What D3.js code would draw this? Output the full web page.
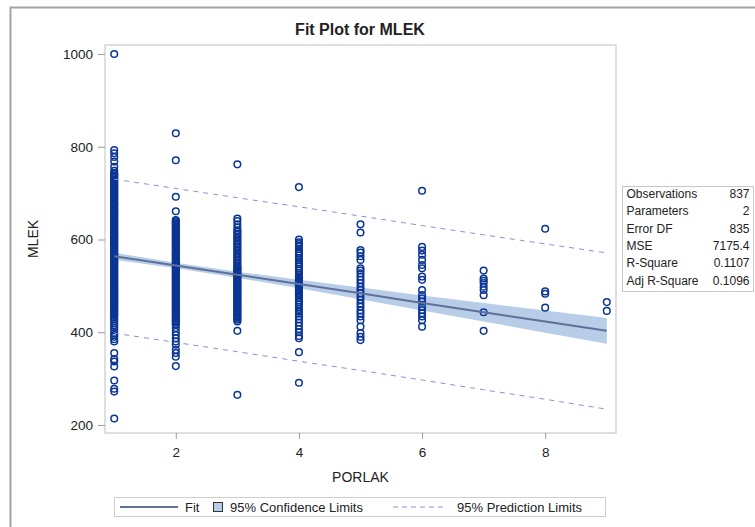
<!DOCTYPE html>
<html>
<head>
<meta charset="utf-8">
<script src="https://cdn.jsdelivr.net/npm/d3@7"></script>
<style>
  html, body { margin: 0; padding: 0; overflow: hidden; background: #fff; }
  svg { display: block; }
  text { font-family: "Liberation Sans", Arial, sans-serif; fill: #222; }
</style>
</head>
<body>
<svg id="my-svg"></svg>
<script>

// data
let porlakLevels = [1, 2, 3, 4, 5, 6, 7, 8, 9];

let mlek1 = [1000, 793, 786, 778, 768, 757, 748,
  743, 741, 738, 736, 733, 730, 728, 726, 723, 721, 718, 715, 713, 711, 708, 706, 703, 701,
  698, 695, 693, 691, 688, 686, 683, 680, 678, 676, 673, 671, 668, 666, 663, 660, 658, 656,
  653, 651, 648, 645, 643, 641, 638, 636, 633, 631, 628, 625, 623, 621, 618, 616, 613, 611,
  608, 605, 603, 601, 598, 596, 593, 590, 588, 586, 583, 581, 578, 576, 573, 570, 568, 566,
  563, 561, 558, 555, 553, 551, 548, 546, 543, 541, 538, 535, 533, 531, 528, 526, 523, 520,
  518, 516, 513, 511, 508, 506, 503, 500, 498, 496, 493, 491, 488, 485, 483, 481, 478, 476,
  473, 470, 468, 466, 463, 461, 458, 456, 453, 450, 448, 446, 443, 441, 438,
  436, 432, 428, 424, 420, 415, 410, 405, 398, 394, 390, 385, 380,
  355, 342, 337, 326, 296, 278, 272, 214];
let mlek2 = [829, 771, 692, 661,
  642, 640, 637, 635, 632, 629, 627, 624, 622, 619, 617, 614, 611, 609, 606, 604, 601, 599,
  596, 593, 591, 588, 586, 583, 581, 578, 575, 573, 570, 568, 565, 563, 560, 557, 555, 552,
  550, 547, 545, 542, 539, 537, 534, 532, 529, 527, 524, 521, 519, 516, 514, 511, 509, 506,
  503, 501, 498, 496, 493, 491, 488, 485, 483, 480, 478, 475, 473, 470, 467, 465, 462, 460,
  457, 455, 452, 449, 447, 444, 442, 439, 437, 434, 431, 429, 426, 424, 421, 418, 416,
  409, 401, 394, 387, 380, 373, 362, 355, 347, 327];
let mlek3 = [762, 645, 640, 633, 626, 620, 617, 613, 610, 606, 603, 599, 596, 592, 589, 585,
  582, 578, 575, 571, 568, 564, 561, 557, 554, 550, 547, 543, 540,
  538, 536, 533, 531, 528, 525, 523, 520, 518, 515, 512, 510, 507, 505, 502, 499, 497, 494,
  492, 489, 486, 484, 481, 479, 476, 473, 471, 468, 466, 463, 460, 458, 455, 453, 450, 447,
  445, 442, 440, 437, 434, 432, 429, 427, 423, 403, 265];
let mlek4 = [713, 600, 594, 590, 585, 579, 574, 570, 566, 560, 556, 551, 547, 542, 537, 533,
  528, 524, 519, 517, 515, 512, 510, 508, 506, 503, 501, 499, 497, 494, 492, 490, 488, 485,
  483, 481, 479, 474, 469, 465, 460, 455, 450, 445, 440, 434, 428, 421, 414, 407, 400, 392,
  387, 357, 291];
let mlek5 = [633, 615, 577, 572, 564, 556, 538, 533, 527, 520, 513, 506, 498, 491, 484, 477,
  470, 462, 455, 447, 441, 434, 426, 412, 398, 390, 383];
let mlek6 = [705, 584, 576, 567, 556, 545, 538, 520, 513, 491, 480, 473, 466, 455, 448, 441,
  434, 426, 412];
let mlek7 = [533, 516, 511, 506, 498, 491, 480, 443, 403];
let mlek8 = [623, 488, 483, 453];
let mlek9 = [465, 446];

let fitValues = [564, 544, 524, 504, 484, 463, 443, 423, 403];
let clUpper = [571.5, 549.8, 530.5, 513.3, 496.7, 479.4, 463.1, 446.9, 430.7];
let clLower = [556.5, 538.2, 517.5, 494.7, 471.3, 446.6, 422.9, 399.1, 375.3];
let plUpper = [730, 710, 690, 670.5, 650.5, 630, 610, 590.5, 571];
let plLower = [398, 378, 358, 337.5, 317.5, 297, 276, 255.5, 234];

let xTicks = [2, 4, 6, 8];
let yTicks = [200, 400, 600, 800, 1000];

let statLabels = ["Observations", "Parameters", "Error DF", "MSE", "R-Square", "Adj R-Square"];
let statValues = ["837", "2", "835", "7175.4", "0.1107", "0.1096"];

let legendLabels = ["Fit", "95% Confidence Limits", "95% Prediction Limits"];


let svg = d3.select("#my-svg")
      .attr('width', 755)
      .attr('height', 527);

// outer frame
svg.append('rect')
      .attr('x', 10.5).attr('y', 7.5)
      .attr('width', 800).attr('height', 600)
      .attr('fill', 'none')
      .attr('stroke', '#a3a3a3')
      .attr('stroke-width', 2);

let plot = { left: 105, top: 45, right: 616, bottom: 433 };

let x = d3.scaleLinear().domain([0.85, 9.15]).range([plot.left, plot.right]);
let y = d3.scaleLinear().domain([182.7, 1019.4]).range([plot.bottom, plot.top]);

// title
svg.append('text')
      .attr('x', 360).attr('y', 35)
      .attr('text-anchor', 'middle')
      .style('font-size', '16px')
      .style('font-weight', 'bold')
      .text('Fit Plot for MLEK');

// confidence band
let fitRows = porlakLevels.map((p, i) => ({ p, fit: fitValues[i], clU: clUpper[i], clL: clLower[i], plU: plUpper[i], plL: plLower[i] }));

svg.append('path')
      .datum(fitRows)
      .attr('d', d3.area().x(d => x(d.p)).y0(d => y(d.clL)).y1(d => y(d.clU)))
      .attr('fill', '#b8cde7');

// points
let mlekColumns = [mlek1, mlek2, mlek3, mlek4, mlek5, mlek6, mlek7, mlek8, mlek9];
let points = [];
mlekColumns.forEach((col, i) => col.forEach(v => points.push({ p: porlakLevels[i], v })));

svg.append('g').selectAll('circle')
      .data(points)
      .enter().append('circle')
        .attr('cx', d => x(d.p))
        .attr('cy', d => y(d.v))
        .attr('r', 3.3)
        .attr('fill', 'none')
        .attr('stroke', '#0b3595')
        .attr('stroke-width', 1.5);

// fit line
svg.append('path')
      .datum(fitRows)
      .attr('d', d3.line().x(d => x(d.p)).y(d => y(d.fit)))
      .attr('fill', 'none')
      .attr('stroke', '#5f7199')
      .attr('stroke-width', 2);

// prediction limits
['plU', 'plL'].forEach(k => {
  svg.append('path')
      .datum(fitRows)
      .attr('d', d3.line().x(d => x(d.p)).y(d => y(d[k])))
      .attr('fill', 'none')
      .attr('stroke', '#8494d6')
      .attr('stroke-width', 1)
      .attr('stroke-dasharray', '5,5');
});

// plot border
svg.append('rect')
      .attr('x', plot.left).attr('y', plot.top)
      .attr('width', plot.right - plot.left).attr('height', plot.bottom - plot.top)
      .attr('fill', 'none')
      .attr('stroke', '#bcbfc5')
      .attr('stroke-width', 1);

// axes
let xAxis = svg.append('g')
      .attr('transform', `translate(0,${plot.bottom})`)
      .call(d3.axisBottom(x).tickValues(xTicks).tickSize(6).tickPadding(8));
let yAxis = svg.append('g')
      .attr('transform', `translate(${plot.left},0)`)
      .call(d3.axisLeft(y).tickValues(yTicks).tickFormat(d3.format('d')).tickSize(7).tickPadding(5));

[xAxis, yAxis].forEach(a => {
  a.select('.domain').remove();
  a.selectAll('line').attr('stroke', '#9a9a9a');
  a.selectAll('text')
      .style('font-family', '"Liberation Sans", Arial, sans-serif')
      .style('font-size', '13.5px')
      .attr('fill', '#222');
});

svg.append('text')
      .attr('x', 360.5).attr('y', 481.5)
      .attr('text-anchor', 'middle')
      .style('font-size', '14px')
      .text('PORLAK');

svg.append('text')
      .attr('transform', 'translate(38,239) rotate(-90)')
      .attr('text-anchor', 'middle')
      .style('font-size', '14px')
      .text('MLEK');

// stats table
svg.append('rect')
      .attr('x', 622.5).attr('y', 186.5)
      .attr('width', 131).attr('height', 105)
      .attr('fill', '#fff')
      .attr('stroke', '#c8c8c8');

let rowY = d3.scaleLinear().domain([0, 1]).range([198, 215.3]);

svg.selectAll('text.statlab')
      .data(statLabels)
      .enter().append('text')
        .attr('class', 'statlab')
        .attr('x', 626.5)
        .attr('y', (d, i) => rowY(i))
        .style('font-size', '12px')
        .text(d => d);

svg.selectAll('text.statval')
      .data(statValues)
      .enter().append('text')
        .attr('class', 'statval')
        .attr('x', 749.5)
        .attr('y', (d, i) => rowY(i))
        .attr('text-anchor', 'end')
        .style('font-size', '12px')
        .text(d => d);

// legend
let leg = svg.append('g');
leg.append('rect')
      .attr('x', 114.5).attr('y', 497.5)
      .attr('width', 491).attr('height', 19)
      .attr('fill', '#fff')
      .attr('stroke', '#cfcfcf');

leg.append('line')
      .attr('x1', 120).attr('x2', 178).attr('y1', 507).attr('y2', 507)
      .attr('stroke', '#5f7199').attr('stroke-width', 2);
leg.append('rect')
      .attr('x', 213.5).attr('y', 502.5).attr('width', 9).attr('height', 9)
      .attr('fill', '#b8cde7').attr('stroke', '#333').attr('stroke-width', 1);
leg.append('line')
      .attr('x1', 393).attr('x2', 447).attr('y1', 507).attr('y2', 507)
      .attr('stroke', '#8494d6').attr('stroke-width', 1)
      .attr('stroke-dasharray', '5,4');

leg.selectAll('text')
      .data(legendLabels)
      .enter().append('text')
        .attr('x', (d, i) => [185, 230, 457][i])
        .attr('y', 511.5)
        .style('font-size', '13px')
        .text(d => d);

</script>
</body>
</html>
